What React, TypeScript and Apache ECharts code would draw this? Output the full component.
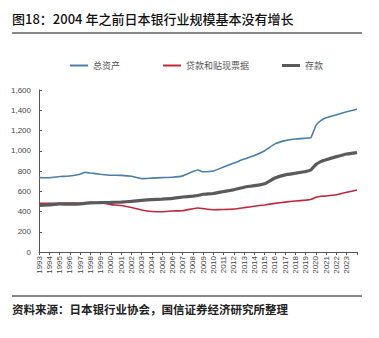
import React, { useEffect, useRef } from "react";
import * as echarts from "echarts";

const periods = [1993, 1994, 1995, 1996, 1997, 1997.5, 1998, 1999, 2000, 2001, 2002, 2003, 2004, 2005, 2006, 2007, 2008, 2008.5, 2009, 2010, 2011, 2012, 2013, 2014, 2015, 2016, 2017, 2018, 2019, 2019.5, 2020, 2020.5, 2021, 2022, 2023, 2024];
const totalAssets = [735, 733, 745, 750, 768, 787, 780, 768, 758, 757, 748, 725, 730, 735, 738, 752, 795, 810, 792, 800, 840, 878, 918, 952, 1000, 1068, 1100, 1116, 1124, 1128, 1250, 1300, 1325, 1355, 1385, 1410];
const loans = [480, 480, 482, 483, 486, 488, 490, 486, 468, 460, 440, 415, 400, 398, 405, 408, 428, 434, 428, 418, 420, 425, 438, 452, 465, 480, 493, 503, 512, 518, 540, 550, 553, 565, 590, 612];
const deposits = [460, 466, 475, 472, 476, 480, 485, 488, 490, 493, 500, 510, 518, 523, 530, 543, 552, 558, 570, 578, 598, 615, 640, 655, 675, 730, 762, 778, 795, 810, 865, 895, 912, 942, 968, 982];
const seriesNames = ["总资产", "贷款和贴现票据", "存款"];
const yTicks = [0, 200, 400, 600, 800, 1000, 1200, 1400, 1600];

const FONT = '"Noto Sans CJK SC", "Noto Sans", sans-serif';

export default function App() {
  const ref = useRef<HTMLDivElement>(null);
  useEffect(() => {
    document.body.style.margin = "0";
    const chart = echarts.init(ref.current!, null, { renderer: "svg" });
    const mk = (arr: number[]) => periods.map((p, i) => [p, arr[i]]);
    chart.setOption({
      animation: false,
      backgroundColor: "#ffffff",
      textStyle: { fontFamily: FONT },
      grid: { left: 39, right: 22, top: 90, bottom: 86, containLabel: false },
      legend: [
        { data: [seriesNames[0]], left: 65, top: 56, itemWidth: 18, itemHeight: 2, icon: "rect", textStyle: { fontSize: 9, color: "#555", fontFamily: FONT } },
        { data: [seriesNames[1]], left: 158, top: 56, itemWidth: 18, itemHeight: 2, icon: "rect", textStyle: { fontSize: 9, color: "#555", fontFamily: FONT } },
        { data: [seriesNames[2]], left: 277, top: 56, itemWidth: 18, itemHeight: 3, icon: "rect", textStyle: { fontSize: 9, color: "#555", fontFamily: FONT } },
      ],
      xAxis: {
        type: "value",
        min: 1993,
        max: 2024,
        interval: 1,
        axisLine: { show: true, lineStyle: { color: "#555", width: 1 } },
        axisTick: { show: true, length: 3, lineStyle: { color: "#555" } },
        splitLine: { show: false },
        axisLabel: {
          rotate: 90,
          fontSize: 8,
          color: "#444",
          margin: 4,
          fontFamily: "Arial, Liberation Sans, sans-serif",
          formatter: (v: number) => (v >= 2024 ? "" : String(v)),
        },
      },
      yAxis: {
        type: "value",
        min: yTicks[0],
        max: yTicks[yTicks.length - 1],
        interval: 200,
        axisLine: { show: true, lineStyle: { color: "#555", width: 1 } },
        axisTick: { show: true, inside: true, length: 3, lineStyle: { color: "#555" } },
        splitLine: { show: false },
        axisLabel: {
          fontSize: 8,
          color: "#444",
          margin: 8,
          fontFamily: "Arial, Liberation Sans, sans-serif",
          formatter: (v: number) => v.toLocaleString("en-US"),
        },
      },
      series: [
        { name: seriesNames[0], type: "line", data: mk(totalAssets), showSymbol: false, symbol: "none", smooth: 0.12, lineStyle: { width: 1.6, color: "#4a7eab" }, itemStyle: { color: "#4a7eab" } },
        { name: seriesNames[1], type: "line", data: mk(loans), showSymbol: false, symbol: "none", smooth: 0.12, lineStyle: { width: 1.6, color: "#c0283c" }, itemStyle: { color: "#c0283c" } },
        { name: seriesNames[2], type: "line", data: mk(deposits), showSymbol: false, symbol: "none", smooth: 0.12, lineStyle: { width: 3.2, color: "#5a5a5a" }, itemStyle: { color: "#5a5a5a" } },
      ],
      graphic: [
        { type: "text", left: 12, top: 12, style: { text: "图18：2004 年之前日本银行业规模基本没有增长", fontSize: 13, fontWeight: 500, fill: "#111", fontFamily: FONT } },
        { type: "line", shape: { x1: 12, y1: 33, x2: 362, y2: 33 }, style: { stroke: "#111", lineWidth: 1 } },
        { type: "line", shape: { x1: 12, y1: 296, x2: 362, y2: 296 }, style: { stroke: "#111", lineWidth: 1 } },
        { type: "text", left: 12, top: 303, style: { text: "资料来源：日本银行业协会，国信证券经济研究所整理", fontSize: 11.5, fontWeight: "bold", fill: "#222", fontFamily: FONT } },
      ],
    });
    return () => chart.dispose();
  }, []);
  return <div ref={ref} style={{ width: 379, height: 338 }} />;
}
